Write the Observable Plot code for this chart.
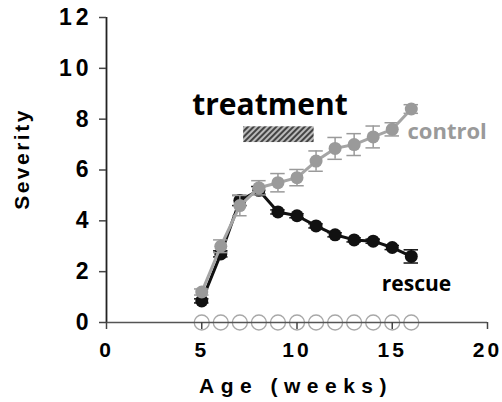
<!DOCTYPE html>
<html><head><meta charset="utf-8">
<script src="https://cdn.jsdelivr.net/npm/d3@7"></script>
<script src="https://cdn.jsdelivr.net/npm/@observablehq/plot@0.6"></script>
<style>body{margin:0;background:#fff}</style>
</head><body><div id="chart"></div>
<script>
const weeks = [5,6,7,8,9,10,11,12,13,14,15,16];
const control = [1.2, 3.0, 4.6, 5.3, 5.5, 5.7, 6.35, 6.85, 7.0, 7.3, 7.6, 8.4];
const controlErr = [0.12, 0.25, 0.4, 0.28, 0.36, 0.32, 0.4, 0.43, 0.43, 0.43, 0.26, 0.17];
const rescue = [0.85, 2.7, 4.8, 5.2, 4.35, 4.2, 3.8, 3.45, 3.25, 3.2, 2.95, 2.6];
const rescueErr = [0.08, 0.12, 0.2, 0.15, 0.08, 0.08, 0.08, 0.08, 0.08, 0.08, 0.08, 0.26];
const baseline = [0,0,0,0,0,0,0,0,0,0,0,0];
const treatment = [{start: 7.2, end: 10.9}];
const xTicks = [0,5,10,15,20];
const yTicks = [0,2,4,6,8,10,12];

const ctrl = weeks.map((w,i)=>({w, v: control[i], e: controlErr[i]}));
const resc = weeks.map((w,i)=>({w, v: rescue[i], e: rescueErr[i]}));
const base = weeks.map((w,i)=>({w, v: baseline[i]}));
const cap = 0.38;
const gray = "#9a9a9a", black = "#111";

const errMarks = (data, color) => [
  Plot.ruleX(data, {x: "w", y1: d=>d.v-d.e, y2: d=>d.v+d.e, stroke: color, strokeWidth: 1.5}),
  Plot.ruleY(data, {y: d=>d.v+d.e, x1: d=>d.w-cap, x2: d=>d.w+cap, stroke: color, strokeWidth: 1.5}),
  Plot.ruleY(data, {y: d=>d.v-d.e, x1: d=>d.w-cap, x2: d=>d.w+cap, stroke: color, strokeWidth: 1.5})
];

const chart = Plot.plot({
  width: 502, height: 402,
  marginLeft: 106, marginRight: 15, marginTop: 17, marginBottom: 80,
  x: {domain: [0,20]},
  y: {domain: [0,12]},
  style: {fontFamily: "'Liberation Sans', Arial, sans-serif", background: "#fff"},
  marks: [
    Plot.rect(treatment, {x1: "start", x2: "end", y1: () => 7.08, y2: () => 7.7, fill: "url(#hatch)"}),
    Plot.dot(base, {x: "w", y: "v", r: 7.5, fill: "#fff", stroke: "#a8a8a8", strokeWidth: 1.3}),
    Plot.ruleX([0], {stroke: "#222", strokeWidth: 1.8}),
    Plot.ruleY([0], {stroke: "#555", strokeWidth: 1.3}),
    Plot.axisY({ticks: yTicks, tickSize: 7, tickPadding: 7, fontSize: 23, fontWeight: "bold", label: null, stroke: "#444", strokeWidth: 1.5}),
    Plot.axisX({ticks: xTicks, tickSize: 7, tickPadding: 13, fontSize: 21, fontWeight: "bold", label: null, stroke: "#444", strokeWidth: 1.5}),
    ...errMarks(resc, black),
    Plot.line(resc, {x: "w", y: "v", stroke: black, strokeWidth: 3}),
    Plot.dot(resc, {x: "w", y: "v", r: 6.5, fill: black}),
    ...errMarks(ctrl, gray),
    Plot.line(ctrl, {x: "w", y: "v", stroke: "#a5a5a5", strokeWidth: 3}),
    Plot.dot(ctrl, {x: "w", y: "v", r: 6.5, fill: gray}),
    Plot.text(["treatment"], {x: () => 4.5, y: () => 8.55, text: d => d, textAnchor: "start", fontSize: 30, fontWeight: "bold", fontFamily: "'Open Sans', sans-serif", fill: "#000"}),
    Plot.text(["control"], {x: () => 15.8, y: () => 7.5, text: d => d, textAnchor: "start", fontSize: 22, fontWeight: "bold", fontFamily: "'Open Sans', sans-serif", fill: "#9a9a9a"}),
    Plot.text(["rescue"], {x: () => 14.45, y: () => 1.5, text: d => d, textAnchor: "start", fontSize: 21, fontWeight: "bold", fontFamily: "'Open Sans', sans-serif", fill: "#000"})
  ]
});

const svg = d3.select(chart);
svg.insert("defs", ":first-child").html(
  '<pattern id="hatch" patternUnits="userSpaceOnUse" width="4" height="4" patternTransform="rotate(45)">' +
  '<rect width="4" height="4" fill="#bbb"/><rect width="2" height="4" fill="#444"/></pattern>');
svg.selectAll("[aria-label='y-axis tick label'] text").style("letter-spacing", "4px");
svg.selectAll("[aria-label='x-axis tick label'] text").style("letter-spacing", "3px");
svg.append("text").attr("x", 296).attr("y", 387).attr("text-anchor", "middle").attr("dominant-baseline", "middle")
  .style("font", "bold 21px 'Liberation Sans', Arial, sans-serif").style("letter-spacing", "6.5px").text("Age (weeks)");
svg.append("text").attr("transform", "translate(23,159) rotate(-90)").attr("text-anchor", "middle").attr("dominant-baseline", "middle")
  .style("font", "bold 21px 'Liberation Sans', Arial, sans-serif").style("letter-spacing", "2.5px").text("Severity");
document.getElementById("chart").appendChild(chart);
</script></body></html>
